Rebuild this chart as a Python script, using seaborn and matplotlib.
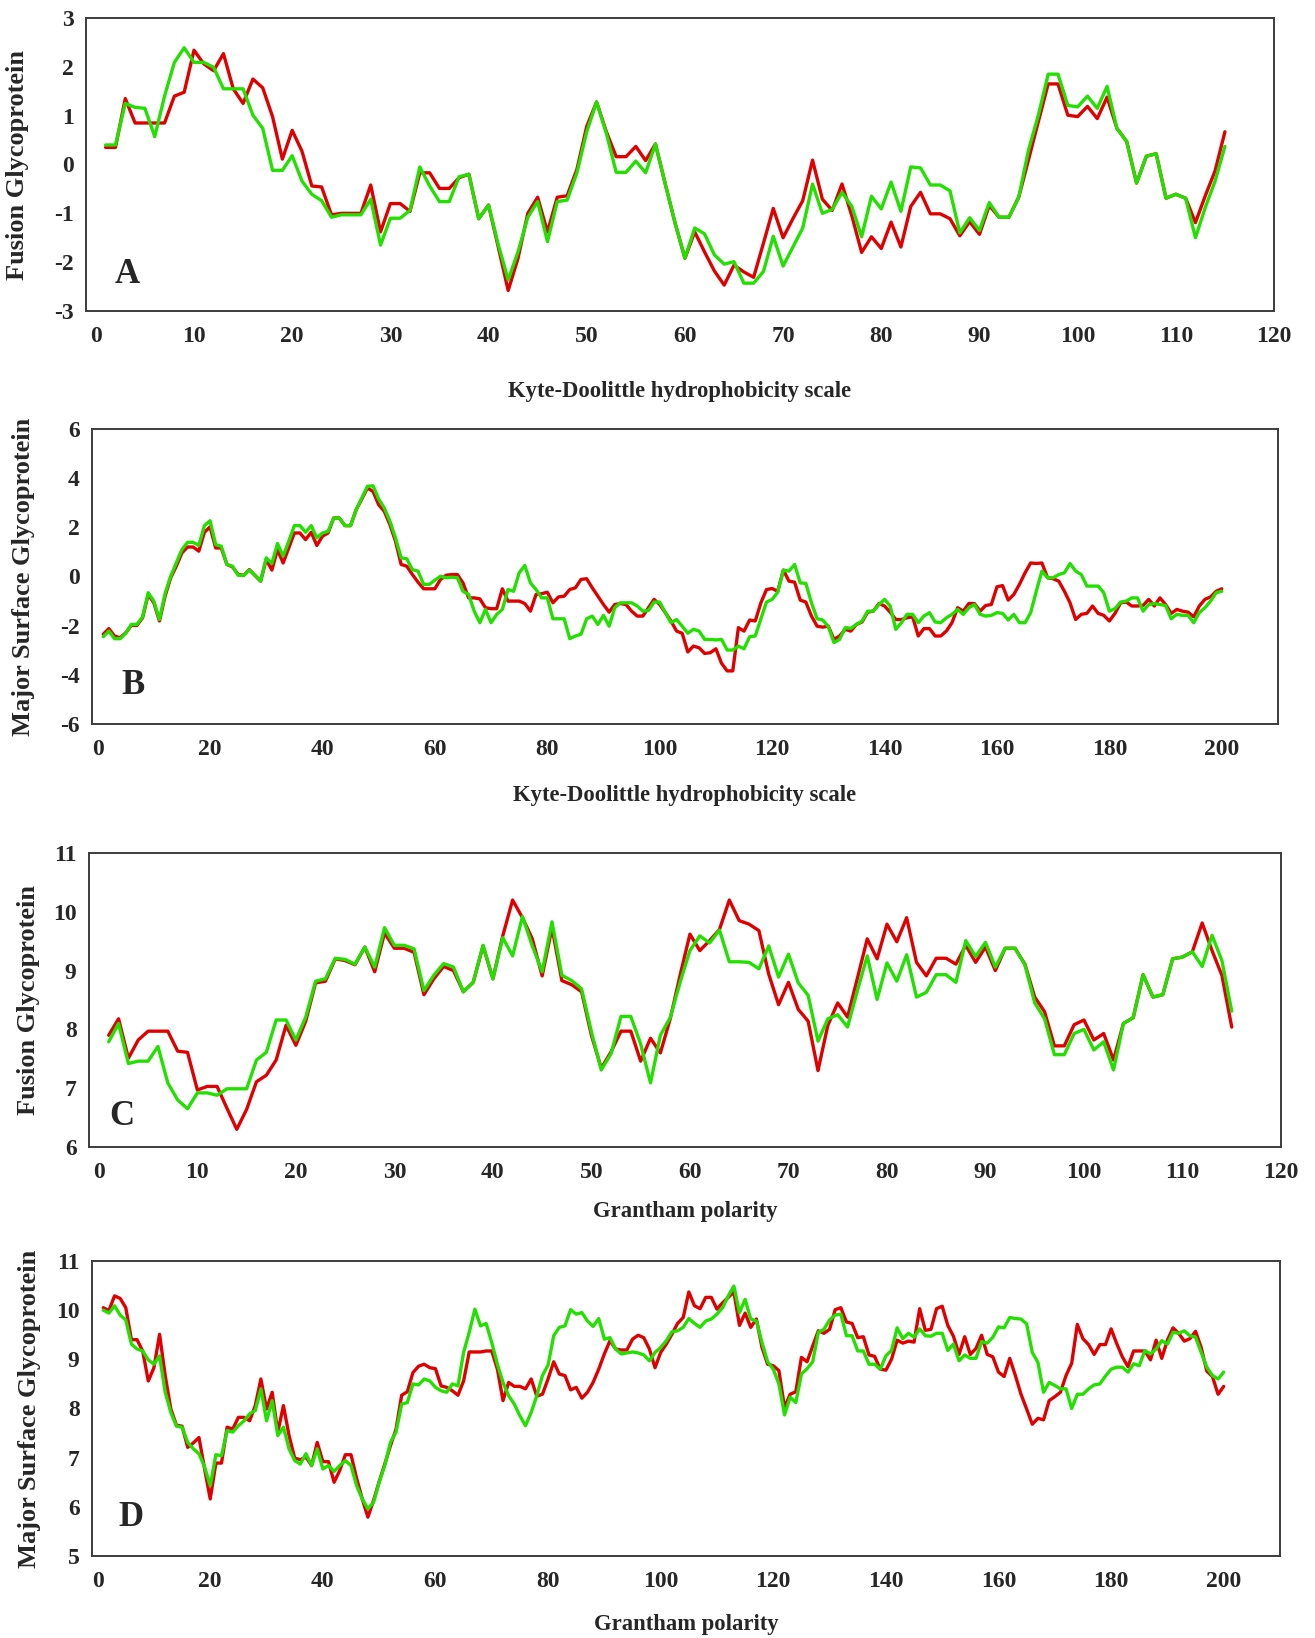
import numpy as np
import pandas as pd
import matplotlib
matplotlib.use("Agg")
import matplotlib.pyplot as plt
import seaborn as sns

# ---------------- data ----------------
# Panel A: Fusion glycoprotein, Kyte-Doolittle (115 positions)
fusion_kd_red = [0.35, 0.35, 1.35, 0.85, 0.85, 0.85, 0.85, 1.4, 1.48, 2.34,
    2.06, 1.92, 2.27, 1.55, 1.25, 1.75, 1.57, 0.98, 0.11, 0.7,
    0.27, -0.44, -0.46, -1.03, -1.0, -1.0, -1.0, -0.42, -1.38, -0.8,
    -0.8, -0.96, -0.17, -0.17, -0.49, -0.49, -0.27, -0.2, -1.11, -0.83,
    -1.7, -2.58, -1.92, -1.0, -0.67, -1.38, -0.67, -0.64, -0.1, 0.78,
    1.28, 0.67, 0.16, 0.16, 0.37, 0.08, 0.42, -0.4, -1.2, -1.92,
    -1.38, -1.79, -2.18, -2.47, -2.06, -2.2, -2.31, -1.61, -0.9, -1.5,
    -1.11, -0.74, 0.09, -0.71, -0.94, -0.4, -1.05, -1.8, -1.48, -1.72,
    -1.18, -1.69, -0.86, -0.57, -1.01, -1.01, -1.11, -1.46, -1.17, -1.43,
    -0.84, -1.08, -1.08, -0.67, 0.1, 0.88, 1.65, 1.65, 1.01, 0.98,
    1.19, 0.94, 1.38, 0.74, 0.47, -0.38, 0.17, 0.22, -0.69, -0.61,
    -0.69, -1.19, -0.64, -0.13, 0.67]
fusion_kd_green = [0.4, 0.4, 1.25, 1.17, 1.15, 0.57, 1.4, 2.09, 2.39, 2.09,
    2.09, 1.99, 1.55, 1.55, 1.55, 1.01, 0.74, -0.12, -0.12, 0.18,
    -0.34, -0.61, -0.74, -1.08, -1.03, -1.03, -1.03, -0.71, -1.65, -1.1,
    -1.1, -0.94, -0.05, -0.44, -0.76, -0.76, -0.25, -0.2, -1.11, -0.83,
    -1.65, -2.36, -1.79, -1.08, -0.76, -1.58, -0.76, -0.73, -0.17, 0.67,
    1.28, 0.64, -0.16, -0.16, 0.07, -0.17, 0.42, -0.4, -1.2, -1.92,
    -1.3, -1.42, -1.85, -2.04, -1.99, -2.43, -2.43, -2.19, -1.47, -2.08,
    -1.69, -1.3, -0.4, -1.0, -0.92, -0.57, -0.86, -1.48, -0.65, -0.91,
    -0.36, -0.96, -0.05, -0.07, -0.42, -0.42, -0.54, -1.4, -1.09, -1.35,
    -0.78, -1.08, -1.08, -0.67, 0.3, 1.01, 1.85, 1.85, 1.21, 1.18,
    1.4, 1.15, 1.6, 0.74, 0.47, -0.38, 0.17, 0.22, -0.69, -0.61,
    -0.69, -1.5, -0.88, -0.34, 0.37]

# Panel B: Major surface glycoprotein, Kyte-Doolittle (200 positions)
msg_kd_red = [-2.35, -2.12, -2.42, -2.49, -2.29, -1.99, -1.99, -1.68, -0.73, -1.07,
    -1.81, -0.8, -0.05, 0.42, 0.96, 1.2, 1.2, 1.03, 1.8, 2.02,
    1.16, 1.16, 0.49, 0.39, 0.08, 0.05, 0.28, 0.04, -0.19, 0.69,
    0.26, 1.1, 0.55, 1.16, 1.77, 1.77, 1.5, 1.8, 1.26, 1.64,
    1.77, 2.38, 2.38, 2.07, 2.07, 2.72, 3.15, 3.6, 3.46, 2.92,
    2.65, 2.11, 1.43, 0.49, 0.42, 0.08, -0.23, -0.5, -0.5, -0.5,
    -0.12, 0.05, 0.08, 0.08, -0.26, -0.87, -0.87, -0.91, -1.27, -1.31,
    -1.31, -0.5, -1.0, -1.0, -1.0, -1.1, -1.41, -0.73, -0.7, -0.64,
    -1.07, -0.83, -0.8, -0.53, -0.46, -0.12, -0.09, -0.46, -0.8, -1.14,
    -1.45, -1.14, -1.1, -1.14, -1.41, -1.61, -1.61, -1.27, -0.93, -1.14,
    -1.47, -1.81, -2.22, -2.31, -3.07, -2.83, -2.9, -3.13, -3.1, -2.94,
    -3.53, -3.84, -3.84, -2.08, -2.22, -1.77, -1.81, -1.07, -0.53, -0.49,
    -0.6, 0.26, -0.19, -0.23, -0.96, -1.04, -1.61, -2.02, -2.06, -2.02,
    -2.56, -2.42, -2.15, -2.22, -1.95, -1.85, -1.45, -1.41, -1.1, -1.2,
    -1.45, -1.75, -1.75, -1.68, -1.64, -2.42, -2.12, -2.12, -2.42, -2.42,
    -2.22, -1.88, -1.27, -1.41, -1.1, -1.1, -1.41, -1.18, -1.14, -0.42,
    -0.37, -0.96, -0.73, -0.32, 0.15, 0.55, 0.53, 0.55, -0.05, -0.09,
    -0.19, -0.6, -1.07, -1.75, -1.54, -1.5, -1.2, -1.5, -1.58, -1.81,
    -1.5, -1.07, -1.04, -1.2, -1.2, -1.18, -0.93, -1.2, -0.87, -1.14,
    -1.5, -1.34, -1.41, -1.45, -1.64, -1.2, -0.93, -0.83, -0.6, -0.5]
msg_kd_green = [-2.45, -2.22, -2.53, -2.53, -2.31, -1.95, -1.95, -1.64, -0.66, -1.0,
    -1.75, -0.69, 0.01, 0.55, 1.1, 1.39, 1.39, 1.26, 2.07, 2.27,
    1.3, 1.23, 0.49, 0.42, 0.05, 0.05, 0.26, 0.05, -0.19, 0.76,
    0.53, 1.34, 0.83, 1.43, 2.07, 2.07, 1.8, 2.07, 1.57, 1.77,
    1.84, 2.38, 2.38, 2.07, 2.07, 2.72, 3.19, 3.67, 3.69, 3.15,
    2.79, 2.25, 1.57, 0.76, 0.72, 0.28, 0.22, -0.32, -0.32, -0.15,
    0.01, -0.05, -0.03, -0.05, -0.6, -0.73, -1.41, -1.88, -1.34, -1.88,
    -1.54, -1.34, -0.53, -0.6, 0.15, 0.45, -0.26, -0.53, -0.87, -0.87,
    -1.72, -1.72, -1.72, -2.53, -2.42, -2.35, -1.72, -1.61, -1.95, -1.58,
    -2.02, -1.27, -1.07, -1.07, -1.07, -1.2, -1.41, -1.38, -1.04, -1.04,
    -1.47, -1.88, -1.75, -2.02, -2.31, -2.15, -2.22, -2.56, -2.56, -2.58,
    -2.56, -2.99, -2.99, -2.83, -2.94, -2.45, -2.42, -1.72, -1.04, -0.93,
    -0.64, 0.26, 0.22, 0.49, -0.26, -0.28, -1.07, -1.72, -1.77, -2.04,
    -2.69, -2.56, -2.08, -2.11, -1.95, -1.81, -1.41, -1.41, -1.14, -0.93,
    -1.2, -2.15, -1.88, -1.54, -1.54, -1.88, -1.61, -1.47, -1.85, -1.88,
    -1.68, -1.54, -1.34, -1.54, -1.27, -1.14, -1.54, -1.61, -1.58, -1.47,
    -1.5, -1.77, -1.54, -1.88, -1.88, -1.47, -0.6, 0.22, -0.05, -0.05,
    0.08, 0.15, 0.53, 0.22, 0.08, -0.39, -0.39, -0.39, -0.66, -1.41,
    -1.31, -1.04, -1.0, -0.87, -0.87, -1.41, -1.14, -1.1, -1.14, -1.18,
    -1.72, -1.54, -1.58, -1.58, -1.88, -1.47, -1.27, -1.0, -0.66, -0.6]

# Panel C: Fusion glycoprotein, Grantham polarity (115 positions)
fusion_gp_red = [7.9, 8.18, 7.51, 7.82, 7.97, 7.97, 7.97, 7.63, 7.61, 6.97,
    7.03, 7.03, 6.66, 6.3, 6.64, 7.11, 7.22, 7.48, 8.07, 7.73,
    8.14, 8.79, 8.82, 9.2, 9.17, 9.1, 9.4, 8.98, 9.64, 9.38,
    9.38, 9.31, 8.59, 8.86, 9.07, 9.0, 8.64, 8.8, 9.42, 8.86,
    9.59, 10.2, 9.9, 9.54, 8.91, 9.73, 8.83, 8.76, 8.64, 7.9,
    7.34, 7.62, 7.97, 7.97, 7.46, 7.85, 7.6, 8.18, 8.92, 9.62,
    9.34, 9.51, 9.7, 10.2, 9.85, 9.79, 9.68, 8.94, 8.42, 8.8,
    8.34, 8.14, 7.3, 8.07, 8.45, 8.21, 8.87, 9.54, 9.2, 9.79,
    9.49, 9.9, 9.14, 8.91, 9.21, 9.21, 9.11, 9.43, 9.14, 9.4,
    9.0, 9.38, 9.38, 9.11, 8.55, 8.3, 7.72, 7.72, 8.08, 8.16,
    7.82, 7.93, 7.48, 8.1, 8.2, 8.93, 8.55, 8.59, 9.2, 9.23,
    9.32, 9.81, 9.34, 8.92, 8.04]
fusion_gp_green = [7.79, 8.1, 7.42, 7.46, 7.46, 7.71, 7.09, 6.8, 6.65, 6.92,
    6.92, 6.88, 6.99, 6.99, 6.99, 7.48, 7.61, 8.16, 8.16, 7.82,
    8.21, 8.82, 8.86, 9.21, 9.19, 9.11, 9.4, 9.06, 9.73, 9.43,
    9.43, 9.37, 8.66, 8.92, 9.12, 9.06, 8.64, 8.8, 9.43, 8.86,
    9.56, 9.25, 9.92, 9.42, 8.98, 9.83, 8.92, 8.83, 8.69, 7.96,
    7.31, 7.59, 8.22, 8.22, 7.75, 7.09, 7.9, 8.2, 8.8, 9.34,
    9.59, 9.47, 9.69, 9.15, 9.15, 9.14, 9.03, 9.42, 8.89, 9.28,
    8.79, 8.58, 7.8, 8.18, 8.25, 8.04, 8.66, 9.25, 8.51, 9.13,
    8.82, 9.27, 8.55, 8.63, 8.93, 8.93, 8.8, 9.51, 9.24, 9.48,
    9.06, 9.38, 9.38, 9.1, 8.45, 8.18, 7.57, 7.57, 7.93, 8.0,
    7.65, 7.79, 7.31, 8.1, 8.2, 8.93, 8.55, 8.59, 9.2, 9.23,
    9.32, 9.07, 9.6, 9.17, 8.31]

# Panel D: Major surface glycoprotein, Grantham polarity (200 positions)
msg_gp_red = [10.05, 9.99, 10.29, 10.24, 10.05, 9.4, 9.4, 9.17, 8.56, 8.83,
    9.51, 8.67, 7.99, 7.66, 7.64, 7.21, 7.3, 7.41, 6.77, 6.16,
    6.89, 6.89, 7.62, 7.58, 7.82, 7.82, 7.75, 8.06, 8.6, 7.99,
    8.33, 7.52, 8.06, 7.45, 6.99, 6.96, 7.01, 6.84, 7.31, 6.92,
    6.92, 6.5, 6.74, 7.06, 7.06, 6.58, 6.16, 5.79, 6.13, 6.51,
    6.87, 7.24, 7.58, 8.27, 8.34, 8.73, 8.86, 8.9, 8.83, 8.81,
    8.46, 8.43, 8.36, 8.27, 8.56, 9.15, 9.15, 9.15, 9.17, 9.17,
    8.8, 8.16, 8.53, 8.45, 8.45, 8.4, 8.6, 8.25, 8.29, 8.6,
    8.95, 8.7, 8.67, 8.38, 8.43, 8.21, 8.33, 8.53, 8.8, 9.11,
    9.38, 9.21, 9.19, 9.19, 9.41, 9.49, 9.44, 9.21, 8.83, 9.14,
    9.31, 9.51, 9.73, 9.85, 10.37, 10.09, 10.03, 10.26, 10.26, 10.02,
    10.15, 10.26, 10.37, 9.69, 9.94, 9.65, 9.82, 9.24, 8.9, 8.87,
    8.77, 8.02, 8.29, 8.34, 9.04, 8.95, 9.27, 9.58, 9.53, 9.61,
    10.01, 10.05, 9.76, 9.73, 9.44, 9.46, 9.09, 9.06, 8.8, 8.78,
    9.0, 9.39, 9.33, 9.37, 9.35, 10.03, 9.59, 9.61, 10.03, 10.08,
    9.69, 9.47, 9.1, 9.46, 9.1, 9.22, 9.49, 9.1, 9.05, 8.74,
    8.65, 9.02, 8.67, 8.29, 7.99, 7.68, 7.8, 7.77, 8.16, 8.24,
    8.33, 8.67, 8.92, 9.71, 9.42, 9.3, 9.1, 9.3, 9.3, 9.62,
    9.32, 9.05, 8.85, 9.17, 9.17, 9.17, 8.99, 9.39, 9.02, 9.39,
    9.64, 9.53, 9.37, 9.42, 9.57, 9.24, 8.76, 8.65, 8.29, 8.45]
msg_gp_green = [10.0, 9.94, 10.09, 9.9, 9.8, 9.31, 9.21, 9.17, 8.99, 8.9,
    9.07, 8.33, 7.92, 7.64, 7.62, 7.31, 7.18, 7.08, 6.81, 6.43,
    7.06, 7.04, 7.55, 7.52, 7.65, 7.75, 7.89, 7.96, 8.4, 7.75,
    8.16, 7.45, 7.62, 7.18, 6.94, 6.87, 7.08, 6.84, 7.18, 6.77,
    6.84, 6.72, 6.84, 6.94, 6.84, 6.43, 6.16, 5.96, 6.09, 6.5,
    6.84, 7.31, 7.52, 8.09, 8.12, 8.5, 8.48, 8.6, 8.56, 8.43,
    8.36, 8.33, 8.5, 8.46, 9.14, 9.55, 10.02, 9.68, 9.73, 9.34,
    8.9, 8.53, 8.26, 8.09, 7.85, 7.65, 7.92, 8.26, 8.67, 8.88,
    9.48, 9.65, 9.68, 10.01, 9.92, 9.95, 9.78, 9.67, 9.83, 9.41,
    9.44, 9.21, 9.11, 9.13, 9.15, 9.13, 9.09, 8.97, 9.14, 9.24,
    9.38, 9.56, 9.58, 9.65, 9.83, 9.73, 9.65, 9.78, 9.82, 9.92,
    10.05, 10.29, 10.49, 9.95, 10.22, 9.82, 9.78, 9.34, 8.95, 8.8,
    8.5, 7.87, 8.23, 8.12, 8.7, 8.81, 8.95, 9.55, 9.61, 9.8,
    9.9, 9.92, 9.48, 9.48, 9.17, 9.17, 8.9, 8.9, 8.8, 9.07,
    9.18, 9.64, 9.42, 9.53, 9.45, 9.62, 9.48, 9.47, 9.53, 9.53,
    9.18, 9.31, 8.97, 9.09, 9.02, 9.02, 9.36, 9.33, 9.45, 9.66,
    9.64, 9.85, 9.83, 9.82, 9.72, 9.14, 8.94, 8.33, 8.53, 8.47,
    8.4, 8.4, 8.0, 8.29, 8.29, 8.4, 8.48, 8.5, 8.66, 8.8,
    8.84, 8.84, 8.74, 8.91, 8.87, 9.18, 9.11, 9.21, 9.38, 9.31,
    9.55, 9.53, 9.58, 9.48, 9.45, 9.14, 8.84, 8.67, 8.6, 8.74]

panel_letters = ["A", "B", "C", "D"]
y_titles = ["Fusion Glycoprotein", "Major Surface Glycoprotein",
            "Fusion Glycoprotein", "Major Surface Glycoprotein"]
x_titles = ["Kyte-Doolittle hydrophobicity scale", "Kyte-Doolittle hydrophobicity scale",
            "Grantham polarity", "Grantham polarity"]
x_ticks_short = [0, 10, 20, 30, 40, 50, 60, 70, 80, 90, 100, 110, 120]
x_ticks_long = [0, 20, 40, 60, 80, 100, 120, 140, 160, 180, 200]
y_ticks_A = [-3, -2, -1, 0, 1, 2, 3]
y_ticks_B = [-6, -4, -2, 0, 2, 4, 6]
y_ticks_C = [6, 7, 8, 9, 10, 11]
y_ticks_D = [5, 6, 7, 8, 9, 10, 11]

# ---------------- style ----------------
sns.set_style("white")
plt.rcParams["font.family"] = ["Liberation Serif", "DejaVu Serif"]
plt.rcParams["font.weight"] = "bold"
plt.rcParams["axes.unicode_minus"] = False

RED = "#E00000"
GREEN = "#22E000"
palette = {"red": RED, "green": GREEN}

fig = plt.figure(figsize=(13.15, 16.38), dpi=100)

W, H = 1315.0, 1638.0
# frame boxes in pixels: left, right, top, bottom
boxes = [(86, 1274, 18, 311), (92, 1278, 429, 724),
         (89, 1281, 853, 1147), (92, 1280, 1261, 1556)]

panels = [
    (fusion_kd_red, fusion_kd_green, (-1, 120), x_ticks_short, (-3, 3), y_ticks_A),
    (msg_kd_red, msg_kd_green, (-1, 210), x_ticks_long, (-6, 6), y_ticks_B),
    (fusion_gp_red, fusion_gp_green, (-1, 120), x_ticks_short, (6, 11), y_ticks_C),
    (msg_gp_red, msg_gp_green, (-1, 210), x_ticks_long, (5, 11), y_ticks_D),
]
xlabel_y = [-0.276, -0.244, -0.221, -0.231]
ylabel_x = [-0.058, -0.0575, -0.0505, -0.053]
letter_pos = [(0.0345, 0.126), (0.0346, 0.129), (0.0277, 0.105), (0.0328, 0.132)]

for i, (red, green, xl, xt, yl, yt) in enumerate(panels):
    l, r, t, b = boxes[i]
    ax = fig.add_axes([l / W, 1 - b / H, (r - l) / W, (b - t) / H])
    n = len(red)
    pos = np.arange(1, n + 1)
    df = pd.DataFrame({
        "pos": np.concatenate([pos, pos]),
        "value": np.concatenate([np.asarray(red, float), np.asarray(green, float)]),
        "seq": ["red"] * n + ["green"] * n,
    })
    sns.lineplot(data=df, x="pos", y="value", hue="seq", hue_order=["red", "green"],
                 palette=palette, linewidth=2.4, legend=False, errorbar=None, ax=ax)
    ax.set_xlim(*xl)
    ax.set_ylim(*yl)
    ax.set_xticks(xt)
    ax.set_yticks(yt)
    ax.tick_params(axis="both", length=0, labelsize=17)
    ax.tick_params(axis="x", pad=11)
    ax.tick_params(axis="y", pad=9)
    for lab in ax.get_xticklabels() + ax.get_yticklabels():
        lab.set_fontweight("bold")
    for sp in ax.spines.values():
        sp.set_visible(True)
        sp.set_color("#3c3c3c")
        sp.set_linewidth(1.4)
    ax.set_xlabel(x_titles[i], fontsize=16.3, fontweight="bold")
    ax.xaxis.set_label_coords(0.5, xlabel_y[i])
    ax.xaxis.label.set_va("center")
    ax.set_ylabel(y_titles[i], fontsize=19, fontweight="bold")
    ax.yaxis.set_label_coords(ylabel_x[i], 0.5)
    ax.yaxis.label.set_va("center")
    ax.text(letter_pos[i][0], letter_pos[i][1], panel_letters[i], transform=ax.transAxes,
            fontsize=25, fontweight="bold", ha="center", va="center")

fig.savefig("out.png", dpi=100, facecolor="white")
